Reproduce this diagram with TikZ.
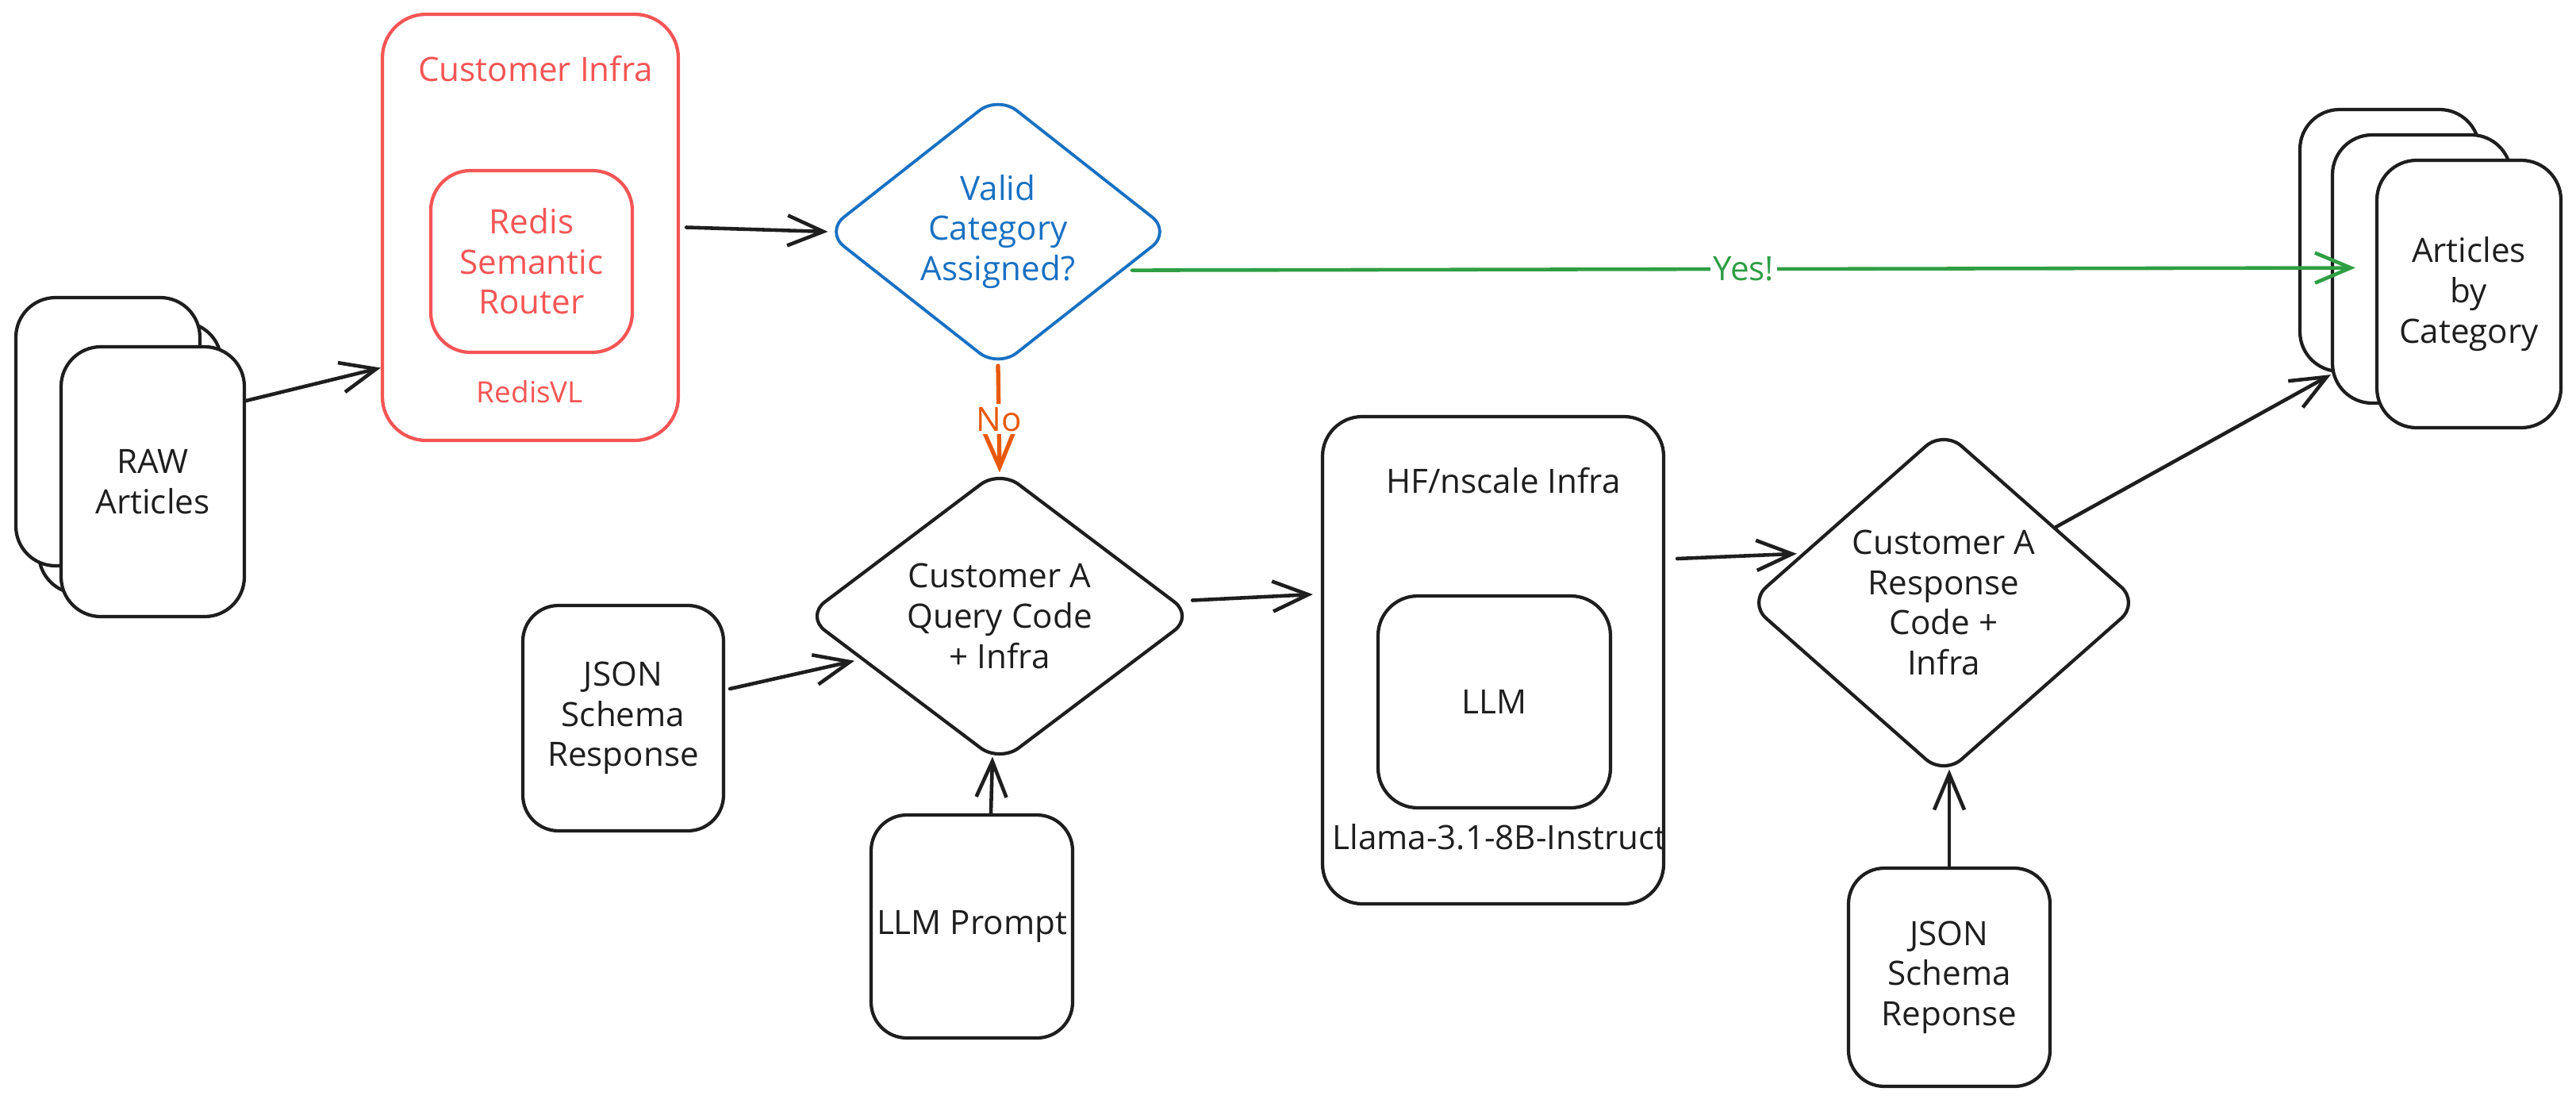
\documentclass[tikz,border=0pt]{standalone}
\usepackage{fontspec}
\setmainfont{Open Sans}
\usepackage{tikz}
\usetikzlibrary{positioning, arrows.meta, shapes.geometric}

\definecolor{ink}{HTML}{1E1E1E}
\definecolor{redisred}{HTML}{F55555}
\definecolor{askblue}{HTML}{1971C2}
\definecolor{noorange}{HTML}{E8590C}
\definecolor{yesgreen}{HTML}{2F9E44}

\tikzset{
	card/.style = {draw = ink, fill = white, line width = 1.2pt, rounded corners = 0.5cm, align = center, inner sep = 0pt},
	decision/.style = {diamond, draw = ink, fill = white, line width = 1.2pt, rounded corners = 3mm, aspect = 1.2, inner sep = 0pt, align = center},
	flow/.style = {draw = ink, line width = 1.3pt, line cap = round, -{Straight Barb[length = 4.5mm, width = 3.8mm]}},
	tag/.style = {fill = white, inner sep = 1pt}
}

\begin{document}
\begin{tikzpicture}[font = \fontsize{12}{14.4}\selectfont, text = ink]
		\useasboundingbox (0, 0) rectangle (32.47, -13.94);
		\node[card, minimum width = 2.30cm, minimum height = 3.42cm] (rawb) at (1.64, -5.77) {};
		\node[card, minimum width = 2.32cm, minimum height = 3.38cm] (rawa) at (1.36, -5.44) {};
		\node[card, minimum width = 2.31cm, minimum height = 3.40cm] (raw) at (1.925, -6.07) {RAW\\Articles};
		\node[card, draw = redisred, rounded corners = 0.55cm, minimum width = 3.73cm, minimum height = 5.37cm] (infra) at (6.685, -2.865) {};
		\node[text = redisred] (infratitle) at (6.75, -0.87) {Customer Infra};
		\node[card, draw = redisred, text = redisred, minimum width = 2.54cm, minimum height = 2.29cm] (router) at (6.70, -3.295) {Redis\\Semantic\\Router};
		\node[text = redisred, font = \fontsize{10.5}{12}\selectfont] (redisvl) at (6.68, -4.94) {RedisVL};
		\node[decision, draw = askblue, text = askblue, line width = 1.1pt, minimum width = 4.37cm, minimum height = 3.44cm] (valid) at (12.58, -2.92) {Valid\\Category\\Assigned?};
		\node[decision, minimum width = 4.90cm, minimum height = 3.70cm] (query) at (12.60, -7.765) {Customer A\\Query Code\\+ Infra};
		\node[card, rounded corners = 0.45cm, minimum width = 2.53cm, minimum height = 2.84cm] (schema) at (7.855, -9.05) {JSON\\Schema\\Response};
		\node[card, rounded corners = 0.45cm, minimum width = 2.54cm, minimum height = 2.81cm] (prompt) at (12.25, -11.675) {LLM Prompt};
		\node[card, minimum width = 4.30cm, minimum height = 6.14cm] (hf) at (18.82, -8.32) {};
		\node (hftitle) at (18.95, -6.06) {HF/nscale Infra};
		\node[card, minimum width = 2.93cm, minimum height = 2.67cm] (llm) at (18.835, -8.845) {LLM};
		\node (llama) at (18.90, -10.55) {Llama-3.1-8B-Instruct};
		\node[decision, minimum width = 4.94cm, minimum height = 4.36cm] (answer) at (24.50, -7.595) {Customer A\\Response\\Code +\\Infra};
		\node[card, rounded corners = 0.45cm, minimum width = 2.54cm, minimum height = 2.75cm] (replyschema) at (24.57, -12.315) {JSON\\Schema\\Reponse};
		\node[card, minimum width = 2.26cm, minimum height = 3.30cm] (sorta) at (30.12, -3.03) {};
		\node[card, minimum width = 2.25cm, minimum height = 3.38cm] (sortb) at (30.525, -3.39) {};
		\node[card, minimum width = 2.32cm, minimum height = 3.37cm] (sorted) at (31.12, -3.705) {Articles\\by\\Category};
		\draw[flow] ([yshift = 1.02cm]raw.east) -- ([yshift = -1.77cm]infra.west);
		\draw[flow] ([xshift = 0.8mm]infra.east) -- ([xshift = 0.6mm]valid.west);
		\draw[flow, draw = noorange, line width = 1.5pt] ([yshift = 0.5mm]valid.south) -- node[tag, text = noorange] (no) {No} ([yshift = -0.6mm]query.north);
		\draw[flow, draw = yesgreen] ([xshift = 1mm]valid.-17) -- node[tag, text = yesgreen] (yes) {Yes!} ([xshift = -2.5mm, yshift = 3.3mm]sorted.west);
		\draw[flow] ([xshift = 0.6mm, yshift = 3.7mm]schema.east) -- ([xshift = -1mm]query.198);
		\draw[flow] ([xshift = 2.4mm]prompt.north) -- ([xshift = -0.9mm, yshift = 1mm]query.south);
		\draw[flow] ([xshift = -0.4mm, yshift = 2mm]query.east) -- ([xshift = -1mm, yshift = 8.3mm]hf.west);
		\draw[flow] ([xshift = 1.5mm, yshift = 12.8mm]hf.east) -- ([xshift = -0.6mm]answer.161);
		\draw[flow] (answer.34) -- ([yshift = 3.8mm]sortb.south west);
		\draw[flow] (replyschema.north) -- ([yshift = 1mm]replyschema.north |- answer.south);
		\end{tikzpicture}
\end{document}
